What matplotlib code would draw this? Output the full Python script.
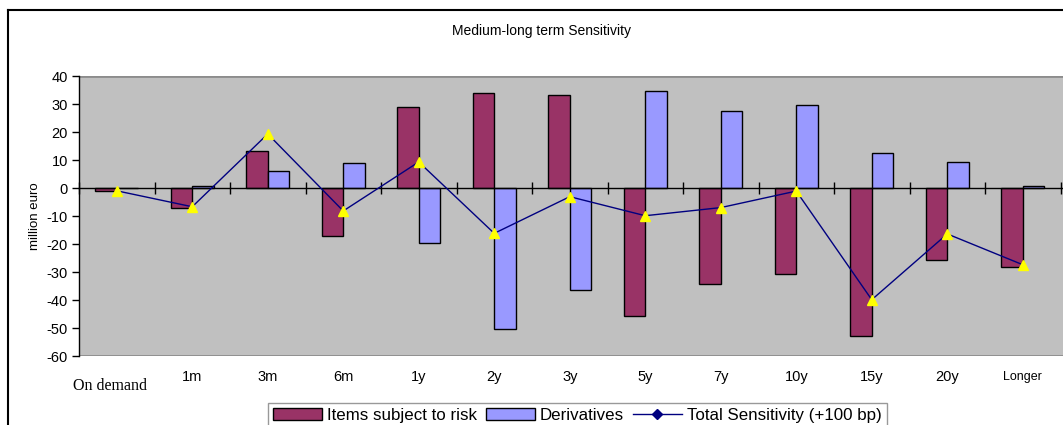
import numpy as np
import matplotlib
matplotlib.use("Agg")
import matplotlib.pyplot as plt
from matplotlib.lines import Line2D
from matplotlib.patches import Patch

# --- dati (milioni di euro) ---
buckets = ["On demand", "1m", "3m", "6m", "1y", "2y", "3y", "5y", "7y", "10y", "15y", "20y", "Longer"]
items_risk = [-1.0, -7.0, 13.3, -17.0, 29.0, 33.8, 33.1, -45.6, -34.3, -30.7, -52.7, -25.8, -28.3]
derivatives = [0.0, 0.6, 6.2, 8.8, -19.8, -50.2, -36.3, 34.6, 27.4, 29.5, 12.5, 9.4, 0.6]
total_sens = [-1.0, -6.7, 19.3, -8.2, 9.3, -16.2, -3.1, -9.9, -7.0, -1.1, -39.9, -16.4, -27.4]

plt.rcParams['font.family'] = ['Liberation Sans', 'DejaVu Sans']
plt.rcParams['axes.unicode_minus'] = False

W, H = 1063, 425
fig = plt.figure(figsize=(W / 100, H / 100), dpi=100)
ax = fig.add_axes([79 / W, 1 - 356 / H, (W - 79) / W, (356 - 76) / H])
ax.set_facecolor('#C0C0C0')

x = np.arange(len(buckets))
w = 0.285
ax.bar(x - w / 2, items_risk, w, color='#993366', edgecolor='black', linewidth=1, zorder=2)
ax.bar(x + w / 2, derivatives, w, color='#9999FF', edgecolor='black', linewidth=1, zorder=2)
ax.plot(x, total_sens, color='#000080', linewidth=1, marker='^', markersize=7,
        markerfacecolor='#FFFF00', markeredgecolor='#FFFF00', zorder=4)

ax.set_xlim(-0.5, -0.5 + (W - 79) / 75.5)
ax.set_ylim(-60, 40)
ax.set_yticks(np.arange(-60, 41, 10))
ax.tick_params(axis='y', direction='out', length=5, width=1, labelsize=10.5, pad=3)

# asse x sullo zero con tacche tra le categorie
ax.spines['bottom'].set_position(('data', 0))
ax.spines['bottom'].set_linewidth(1)
ax.set_xticks(np.arange(len(buckets) + 1) - 0.5)
ax.set_xticklabels([])
ax.tick_params(axis='x', direction='inout', length=9, width=1)
ax.spines['top'].set_visible(False)
ax.spines['right'].set_visible(False)
ax.spines['left'].set_linewidth(1)
ax.axhline(40, color='#8C8C8C', linewidth=2, zorder=1)
ax.axhline(-60, color='#8C8C8C', linewidth=2, zorder=1)

# etichette delle categorie
for i, lab in enumerate(buckets):
    if i == 0:
        ax.text(i - 0.09, -0.107, lab, transform=ax.get_xaxis_transform(), ha='center', va='center',
                fontsize=11.5, family=['Liberation Serif', 'DejaVu Serif'])
    elif lab == "Longer":
        ax.text(i, -0.075, lab, transform=ax.get_xaxis_transform(), ha='center', va='center', fontsize=9)
    else:
        ax.text(i, -0.075, lab, transform=ax.get_xaxis_transform(), ha='center', va='center', fontsize=10.5)

ax.set_ylabel("million euro", fontsize=9.5, labelpad=4)
fig.text(541 / W, 1 - 31 / H, "Medium-long term Sensitivity", ha='center', va='center', fontsize=10)

# cornice esterna
fig.add_artist(Line2D([8 / W, 1], [1 - 10 / H, 1 - 10 / H], color='black', linewidth=1.5, transform=fig.transFigure))
fig.add_artist(Line2D([8 / W, 8 / W], [0, 1 - 10 / H], color='black', linewidth=1.5, transform=fig.transFigure))

handles = [
    Patch(facecolor='#993366', edgecolor='black', linewidth=1, label='Items subject to risk'),
    Patch(facecolor='#9999FF', edgecolor='black', linewidth=1, label='Derivatives'),
    Line2D([], [], color='#000080', linewidth=1, marker='D', markersize=5, label='Total Sensitivity (+100 bp)'),
]
leg = fig.legend(handles=handles, loc='upper left', bbox_to_anchor=(268 / W, 1 - 403 / H), ncol=3,
                 fontsize=12.2, frameon=True, fancybox=False, edgecolor='#808080', borderpad=0.3,
                 handlelength=2.9, handleheight=0.7, handletextpad=0.3, columnspacing=0.5, borderaxespad=0)
leg.get_frame().set_linewidth(1)

fig.savefig("out.png", dpi=100)
